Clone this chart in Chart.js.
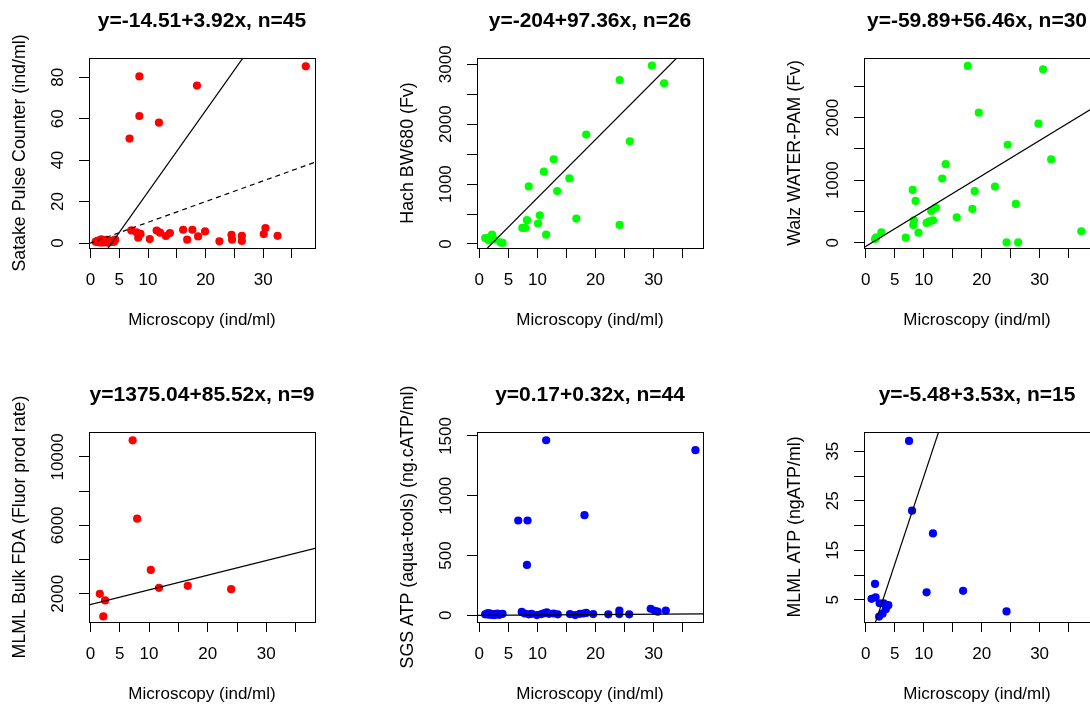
<!DOCTYPE html>
<html><head><meta charset="utf-8">
<script src="https://cdn.jsdelivr.net/npm/chart.js@4.4.1/dist/chart.umd.min.js"></script>
<style>
html,body{margin:0;padding:0;background:#fff;overflow:hidden;width:1090px;height:706px;position:relative;}
.panel{position:absolute;width:363px;height:353px;}
</style></head><body>
<div class="panel" style="left:0px;top:0px"><canvas id="c1"></canvas></div>
<div class="panel" style="left:388px;top:0px"><canvas id="c2"></canvas></div>
<div class="panel" style="left:775px;top:0px"><canvas id="c3"></canvas></div>
<div class="panel" style="left:0px;top:374px"><canvas id="c4"></canvas></div>
<div class="panel" style="left:388px;top:374px"><canvas id="c5"></canvas></div>
<div class="panel" style="left:775px;top:374px"><canvas id="c6"></canvas></div>
<script>
// ---------- shared axis ----------
const xAxisTitle = 'Microscopy (ind/ml)';
const xTickValues = [0, 5, 10, 15, 20, 25, 30, 35];
const xTickLabels = ['0', '5', '10', '', '20', '', '30', ''];

// ---------- panel 1: Satake Pulse Counter ----------
const satakeTitle = 'y=-14.51+3.92x, n=45';
const satakeYTitle = 'Satake Pulse Counter (ind/ml)';
const satakeX = [8.5, 18.5, 8.5, 11.9, 6.8, 37.4,
  7.1, 8.0, 8.3, 8.7, 10.3, 11.5, 12.1, 13.1, 13.8, 16.1, 16.8, 17.7, 18.7, 19.9, 22.4,
  24.5, 24.6, 26.3, 26.3, 30.4, 30.1, 32.5,
  0.9, 1.2, 1.4, 1.6, 1.8, 1.9, 2.1, 2.3, 2.4, 2.6, 2.8, 3.0, 3.2, 3.5, 3.8, 4.1, 4.3];
const satakeY = [80.4, 76.0, 61.3, 58.1, 50.4, 85.3,
  6.1, 5.2, 2.6, 4.4, 1.9, 6.0, 5.0, 3.4, 4.8, 6.4, 1.6, 6.4, 3.2, 5.6, 0.8,
  4.0, 1.6, 3.5, 1.0, 7.2, 4.3, 3.5,
  0.6, 1.0, 0.4, 1.3, 0.2, 1.8, 0.8, 0.3, 1.2, 0.5, 1.5, 0.2, 0.9, 0.4, 1.2, 0.6, 1.6];
const satakeFit = [-14.51, 3.92];
const satakeOneToOne = [0, 1];
const satakeXRange = [-0.25, 39.0];
const satakeYRange = [-2.4, 89.3];
const satakeYTicks = [0, 20, 40, 60, 80];
const satakeYTickLabels = ['0', '20', '40', '60', '80'];

// ---------- panel 2: Hach BW680 ----------
const hachTitle = 'y=-204+97.36x, n=26';
const hachYTitle = 'Hach BW680 (Fv)';
const hachX = [29.7, 24.15, 31.8, 18.4, 25.9, 12.8, 11.1, 15.5, 8.5, 13.4, 10.4, 16.7, 8.2,
  10.1, 7.4, 7.9, 24.15, 11.5, 1.0, 1.6, 2.2, 3.6, 4.0, 1.3, 1.9, 2.5];
const hachY = [2978, 2737, 2682, 1827, 1715, 1413, 1207, 1095, 961, 883, 480, 425, 397,
  341, 268, 268, 318, 156, 100, 61, 156, 28, 17, 90, 120, 80];
const hachFit = [-204, 97.36];
const hachXRange = [-0.4, 38.5];
const hachYRange = [-67, 3105];
const hachYTicks = [0, 500, 1000, 1500, 2000, 2500, 3000];
const hachYTickLabels = ['0', '', '1000', '', '2000', '', '3000'];

// ---------- panel 3: Walz WATER-PAM ----------
const walzTitle = 'y=-59.89+56.46x, n=30';
const walzYTitle = 'Walz WATER-PAM (Fv)';
const walzX = [17.6, 30.6, 19.5, 29.8, 24.5, 32.0, 13.8, 13.2, 8.1, 22.3, 18.8, 8.6, 25.9, 12.1,
  11.3, 18.4, 15.7, 8.3, 11.6, 10.5, 8.2, 9.1, 6.9, 2.7, 1.8, 1.6, 24.3, 26.3, 37.2, 11.0];
const walzY = [2829, 2775, 2080, 1904, 1567, 1332, 1257, 1027, 845, 898, 824, 668, 620, 561,
  508, 540, 406, 358, 358, 316, 283, 160, 80, 166, 85, 59, 5, 5, 182, 340];
const walzFit = [-59.89, 56.46];
const walzXRange = [-0.3, 38.7];
const walzYRange = [-85, 2955];
const walzYTicks = [0, 500, 1000, 1500, 2000, 2500];
const walzYTickLabels = ['0', '', '1000', '', '2000', ''];

// ---------- panel 4: MLML Bulk FDA ----------
const fdaTitle = 'y=1375.04+85.52x, n=9';
const fdaYTitle = 'MLML Bulk FDA (Fluor prod rate)';
const fdaX = [7.2, 7.97, 10.3, 11.7, 16.6, 24.0, 1.6, 2.5, 2.2];
const fdaY = [10971, 6388, 3398, 2350, 2466, 2272, 2000, 1612, 680];
const fdaFit = [1375.04, 85.52];
const fdaXRange = [-0.24, 38.3];
const fdaYRange = [352, 11456];
const fdaYTicks = [2000, 4000, 6000, 8000, 10000];
const fdaYTickLabels = ['2000', '', '6000', '', '10000'];

// ---------- panel 5: SGS ATP (aqua-tools) ----------
const sgsTitle = 'y=0.17+0.32x, n=44';
const sgsYTitle = 'SGS ATP (aqua-tools) (ng.cATP/ml)';
const sgsX = [11.5, 37.2, 18.1, 6.7, 8.3, 8.2,
  1.0, 1.3, 1.6, 1.9, 2.2, 2.5, 2.8, 3.1, 3.4, 3.7, 4.0, 1.5, 2.6,
  7.3, 7.8, 8.5, 9.0,
  9.9, 10.7, 11.2, 11.6, 12.0, 12.8, 13.5,
  15.6, 16.5, 17.3, 17.9, 18.4, 19.6,
  22.2, 24.1, 24.1, 25.8, 29.5, 30.7, 32.1, 30.2];
const sgsY = [1464, 1381, 837, 793, 793, 421,
  8, 12, 5, 15, 3, 10, 6, 14, 4, 9, 12, 18, 2,
  28, 15, 8, 12,
  2, 10, 18, 25, 12, 15, 8,
  10, 2, 12, 15, 20, 10,
  8, 40, 10, 8, 55, 30, 40, 38];
const sgsFit = [0.17, 0.32];
const sgsXRange = [-0.4, 38.5];
const sgsYRange = [-56, 1533];
const sgsYTicks = [0, 500, 1000, 1500];
const sgsYTickLabels = ['0', '500', '1000', '1500'];

// ---------- panel 6: MLML ATP ----------
const atpTitle = 'y=-5.48+3.53x, n=15';
const atpYTitle = 'MLML ATP (ngATP/ml)';
const atpX = [7.47, 7.99, 11.6, 10.5, 16.8, 24.3, 1.6, 1.0, 1.7, 2.4, 3.1, 3.9, 3.45, 2.9, 2.3];
const atpY = [37.1, 23.0, 18.4, 6.5, 6.8, 2.65, 8.2, 5.2, 5.5, 4.3, 4.3, 3.9, 3.1, 2.2, 1.6];
const atpFit = [-5.48, 3.53];
const atpXRange = [-0.3, 38.7];
const atpYRange = [0.51, 38.9];
const atpYTicks = [5, 10, 15, 20, 25, 30, 35];
const atpYTickLabels = ['5', '', '15', '', '25', '', '35'];

// ---------- drawing ----------
const FONT = '"Liberation Sans", Arial, Helvetica, sans-serif';
const TICK_SIZE = 17;
const TITLE_SIZE = 21;
Chart.defaults.font.family = FONT;
Chart.defaults.color = '#000';

function widestLabel(labels) {
  const ctx = document.createElement('canvas').getContext('2d');
  ctx.font = 'normal ' + TICK_SIZE + 'px ' + FONT;
  return Math.max.apply(null, labels.map(l => ctx.measureText(l).width));
}

function fitLine(coef, range, dash) {
  return {
    data: range.map(x => ({x: x, y: coef[0] + coef[1] * x})),
    showLine: true, pointRadius: 0, pointHoverRadius: 0,
    borderColor: '#000', borderWidth: 1.2, borderDash: dash || [],
    backgroundColor: '#000'
  };
}

function panel(id, p) {
  const BOX_W = 226, BOX_H = 190, TOP = 58, LEFT = 89;
  const el = document.getElementById(id);
  const W = el.parentNode.clientWidth, H = el.parentNode.clientHeight;
  const widest = widestLabel(p.yTickLabels);
  const titleLH = TITLE_SIZE * 1.2;
  const titlePadTop = 21 - titleLH / 2;
  const datasets = p.lines.map(l => fitLine(l.coef, p.xRange, l.dash));
  datasets.push({
    data: p.x.map((v, i) => ({x: v, y: p.y[i]})),
    backgroundColor: p.color, borderColor: p.color, borderWidth: 0,
    pointRadius: 4.1, pointHoverRadius: 4.1, showLine: false
  });
  new Chart(el, {
    type: 'scatter',
    data: {datasets: datasets},
    options: {
      responsive: true, maintainAspectRatio: false, animation: false,
      events: [],
      layout: {padding: {left: 0, top: 0, right: W - LEFT - BOX_W, bottom: 0}},
      plugins: {
        legend: {display: false}, tooltip: {enabled: false},
        title: {
          display: true, text: p.title, fullSize: false, color: '#000',
          font: {family: FONT, size: TITLE_SIZE, weight: 'bold', lineHeight: 1.2},
          padding: {top: titlePadTop, bottom: TOP - titlePadTop - titleLH}
        }
      },
      scales: {
        x: {
          type: 'linear', position: 'bottom', bounds: 'data',
          min: p.xRange[0], max: p.xRange[1],
          afterBuildTicks: s => { s.ticks = xTickValues.map(v => ({value: v})); },
          afterFit: s => { s.height = H - TOP - BOX_H; },
          grid: {display: true, drawOnChartArea: false, drawTicks: true, tickLength: 10, color: '#000', lineWidth: 1},
          border: {display: true, color: '#000', width: 1},
          ticks: {
            autoSkip: false, minRotation: 0, maxRotation: 0, padding: 12.3, color: '#000',
            font: {family: FONT, size: TICK_SIZE},
            callback: (v, i) => xTickLabels[i]
          },
          title: {
            display: true, text: xAxisTitle, color: '#000',
            font: {family: FONT, size: 17, lineHeight: 1.2},
            padding: {top: 0, bottom: 22.3}
          }
        },
        y: {
          type: 'linear', position: 'left', bounds: 'data',
          min: p.yRange[0], max: p.yRange[1],
          afterBuildTicks: s => { s.ticks = p.yTicks.map(v => ({value: v})); },
          afterFit: s => { s.width = LEFT; },
          grid: {display: true, drawOnChartArea: false, drawTicks: true, tickLength: 10, color: '#000', lineWidth: 1},
          border: {display: true, color: '#000', width: 1},
          ticks: {
            autoSkip: false, minRotation: 90, maxRotation: 90, crossAlign: 'center',
            padding: 20.5 - widest / 2, color: '#000',
            font: {family: FONT, size: TICK_SIZE},
            callback: (v, i) => p.yTickLabels[i]
          },
          title: {
            display: true, text: p.yTitle, color: '#000',
            font: {family: FONT, size: 17.8, lineHeight: 1.2},
            padding: {top: 9.8, bottom: 0}
          }
        },
        x2: {
          type: 'linear', axis: 'x', position: 'top', min: 0, max: 1,
          afterFit: s => { s.height = 0; },
          grid: {display: false, drawTicks: false},
          border: {display: true, color: '#000', width: 1},
          ticks: {display: false}
        },
        y2: {
          type: 'linear', axis: 'y', position: 'right', min: 0, max: 1,
          afterFit: s => { s.width = 0; },
          grid: {display: false, drawTicks: false},
          border: {display: true, color: '#000', width: 1},
          ticks: {display: false}
        }
      }
    }
  });
}

panel('c1', {title: satakeTitle, yTitle: satakeYTitle, x: satakeX, y: satakeY, color: '#ff0000',
  xRange: satakeXRange, yRange: satakeYRange, yTicks: satakeYTicks, yTickLabels: satakeYTickLabels,
  lines: [{coef: satakeFit}, {coef: satakeOneToOne, dash: [5, 4]}]});
panel('c2', {title: hachTitle, yTitle: hachYTitle, x: hachX, y: hachY, color: '#00ff00',
  xRange: hachXRange, yRange: hachYRange, yTicks: hachYTicks, yTickLabels: hachYTickLabels,
  lines: [{coef: hachFit}]});
panel('c3', {title: walzTitle, yTitle: walzYTitle, x: walzX, y: walzY, color: '#00ff00',
  xRange: walzXRange, yRange: walzYRange, yTicks: walzYTicks, yTickLabels: walzYTickLabels,
  lines: [{coef: walzFit}]});
panel('c4', {title: fdaTitle, yTitle: fdaYTitle, x: fdaX, y: fdaY, color: '#ff0000',
  xRange: fdaXRange, yRange: fdaYRange, yTicks: fdaYTicks, yTickLabels: fdaYTickLabels,
  lines: [{coef: fdaFit}]});
panel('c5', {title: sgsTitle, yTitle: sgsYTitle, x: sgsX, y: sgsY, color: '#0000ff',
  xRange: sgsXRange, yRange: sgsYRange, yTicks: sgsYTicks, yTickLabels: sgsYTickLabels,
  lines: [{coef: sgsFit}]});
panel('c6', {title: atpTitle, yTitle: atpYTitle, x: atpX, y: atpY, color: '#0000ff',
  xRange: atpXRange, yRange: atpYRange, yTicks: atpYTicks, yTickLabels: atpYTickLabels,
  lines: [{coef: atpFit}]});
</script>
</body></html>
